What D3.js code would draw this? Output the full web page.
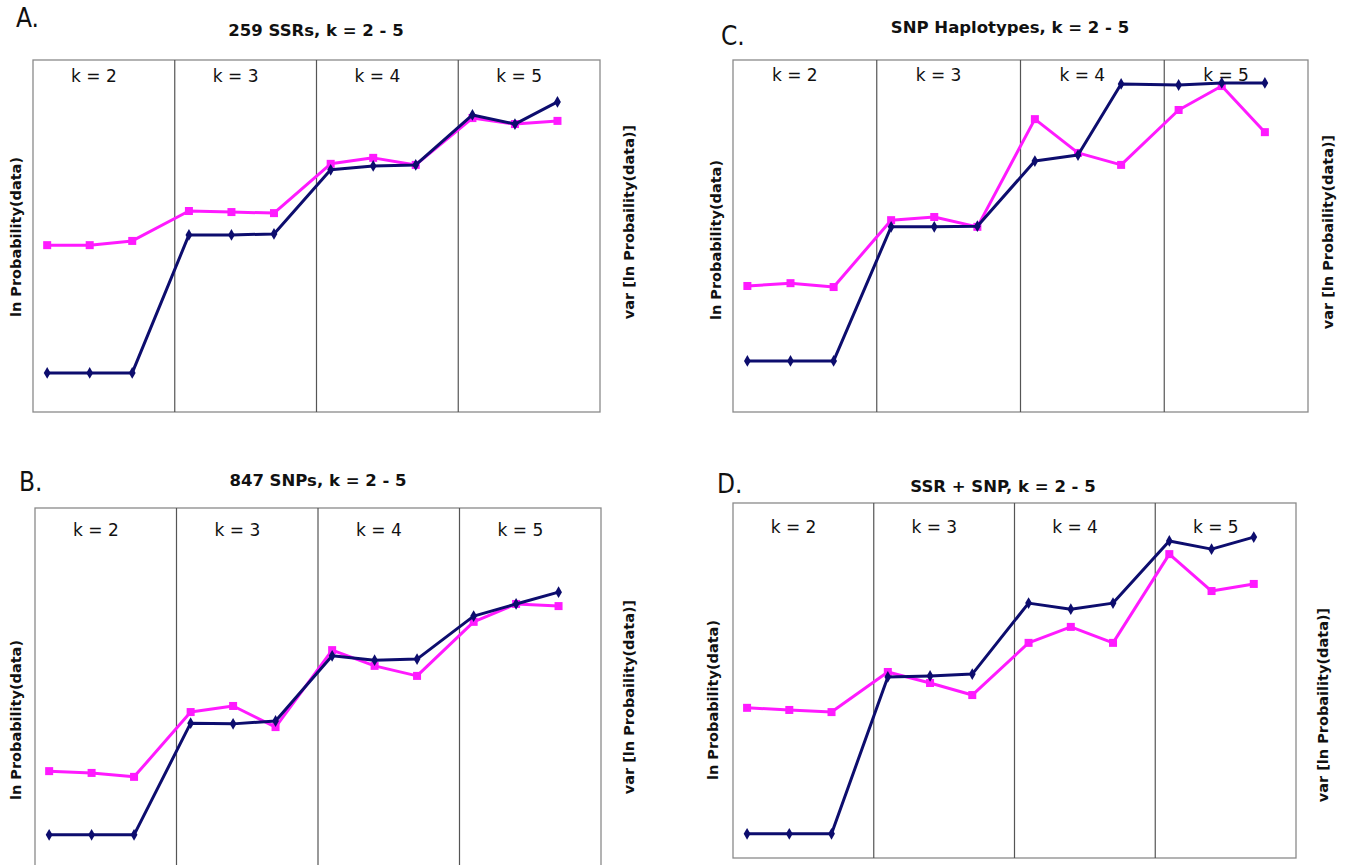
<!DOCTYPE html>
<html><head><meta charset="utf-8">
<script src="https://cdn.jsdelivr.net/npm/d3@7"></script>
<style>body{margin:0;background:#fff}svg{display:block}</style>
</head><body>
<svg id="c" width="1345" height="865"></svg>
<script>
// ---- data (relative ln P units, 0-100 of panel range) ----
const groups = ["k = 2", "k = 3", "k = 4", "k = 5"];
const runs = [0, 1, 2];
const titles = ["259 SSRs, k = 2 - 5", "847 SNPs, k = 2 - 5", "SNP Haplotypes, k = 2 - 5", "SSR + SNP,  k = 2 - 5"];
const letters = ["A.", "B.", "C.", "D."];
const blueA = [11.1, 11.1, 11.1, 50.3, 50.3, 50.6, 68.8, 69.9, 70.2, 84.4, 81.8, 88.1];
const magA  = [47.4, 47.4, 48.6, 57.1, 56.8, 56.5, 70.5, 72.2, 70.2, 83.5, 81.8, 82.7];
const blueB = [8.7, 8.7, 8.7, 39.9, 39.7, 40.5, 58.7, 57.5, 57.8, 69.8, 73.2, 76.5];
const magB  = [26.5, 26.0, 24.9, 43.0, 44.7, 38.8, 60.3, 55.9, 53.1, 68.2, 73.2, 72.6];
const blueC = [14.5, 14.5, 14.5, 52.6, 52.6, 52.8, 71.3, 73.0, 93.2, 92.9, 93.5, 93.5];
const magC  = [35.8, 36.6, 35.5, 54.5, 55.4, 52.6, 83.2, 73.6, 70.2, 85.8, 92.6, 79.5];
const blueD = [6.8, 6.8, 6.8, 51.0, 51.3, 51.8, 71.8, 70.1, 71.8, 89.3, 87.0, 90.4];
const magD  = [42.3, 41.7, 41.1, 52.4, 49.3, 45.9, 60.6, 65.1, 60.6, 85.6, 75.2, 77.2];
const leftLabel = "ln Probability(data)";
const rightLabel = "var [ln Probaility(data)]";

// ---- layout ----
const panels = [
  {blue: blueA, mag: magA, x0: 33, x1: 600, y0: 60, y1: 412, koff: 22, letter: [16, 27], title: [316, 36], ll: [16, 237], rl: [629, 222]},
  {blue: blueB, mag: magB, x0: 35, x1: 601, y0: 508, y1: 866, koff: 28, letter: [19, 491], title: [318, 486], ll: [16, 720], rl: [629, 697]},
  {blue: blueC, mag: magC, x0: 733, x1: 1308, y0: 60, y1: 412, koff: 21, letter: [721, 45], title: [1010, 33], ll: [716, 240], rl: [1328, 232]},
  {blue: blueD, mag: magD, x0: 733, x1: 1296, y0: 503, y1: 858, koff: 30, letter: [717, 493], title: [1003, 492], ll: [713, 700], rl: [1323, 705]}
];
const pIdx = [0, 1, 2, 3];

const svg = d3.select("#c");
const font = "'DejaVu Sans', Verdana, sans-serif";

pIdx.forEach(pi => {
  const p = panels[pi];
  const g = svg.append("g");
  const xg = d3.scaleBand().domain(groups).range([p.x0, p.x1]);
  const bw = xg.bandwidth();
  const xr = d3.scaleLinear().domain([0, 2]).range([bw * 0.1, bw * 0.7]);
  const y = d3.scaleLinear().domain([0, 100]).range([p.y1, p.y0]);
  const xAt = i => xg(groups[Math.floor(i / 3)]) + xr(runs[i % 3]);

  g.append("rect").attr("x", p.x0).attr("y", p.y0).attr("width", p.x1 - p.x0).attr("height", p.y1 - p.y0)
    .attr("fill", "none").attr("stroke", "#8a8a8a").attr("stroke-width", 1.3);
  g.selectAll("line.div").data(groups.slice(1)).join("line")
    .attr("x1", d => xg(d)).attr("x2", d => xg(d)).attr("y1", p.y0).attr("y2", p.y1)
    .attr("stroke", "#555").attr("stroke-width", 1.2);
  g.selectAll("text.k").data(groups).join("text")
    .attr("x", d => xg(d) + bw * 0.43).attr("y", p.y0 + p.koff)
    .attr("text-anchor", "middle").attr("font-family", font).attr("font-size", 17).attr("fill", "#111")
    .text(d => d);

  const line = d3.line().x((d, i) => xAt(i)).y(d => y(d));
  g.append("path").datum(p.mag).attr("d", line).attr("fill", "none").attr("stroke", "#ff1aff").attr("stroke-width", 3).attr("stroke-linejoin", "round");
  g.selectAll("rect.m").data(p.mag).join("rect")
    .attr("x", (d, i) => xAt(i) - 4).attr("y", d => y(d) - 4).attr("width", 8).attr("height", 8).attr("fill", "#ff1aff");
  g.append("path").datum(p.blue).attr("d", line).attr("fill", "none").attr("stroke", "#0d0d6e").attr("stroke-width", 3).attr("stroke-linejoin", "round");
  g.selectAll("path.b").data(p.blue).join("path")
    .attr("d", d3.symbol(d3.symbolDiamond, 40))
    .attr("transform", (d, i) => `translate(${xAt(i)},${y(d)})`).attr("fill", "#0d0d6e");

  g.append("text").attr("x", p.letter[0]).attr("y", p.letter[1]).attr("font-family", "'DejaVu Sans Condensed', 'DejaVu Sans', sans-serif")
    .attr("font-size", 26).attr("fill", "#111").text(letters[pi]);
  g.append("text").attr("x", p.title[0]).attr("y", p.title[1]).attr("text-anchor", "middle")
    .attr("font-family", font).attr("font-weight", "bold").attr("font-size", 16.5).attr("fill", "#111").text(titles[pi]);
  g.append("text").attr("transform", `translate(${p.ll[0]},${p.ll[1]}) rotate(-90)`).attr("text-anchor", "middle")
    .attr("dy", "0.35em").attr("font-family", font).attr("font-weight", "bold").attr("font-size", 14.5).attr("fill", "#111").text(leftLabel);
  g.append("text").attr("transform", `translate(${p.rl[0]},${p.rl[1]}) rotate(-90)`).attr("text-anchor", "middle")
    .attr("dy", "0.35em").attr("font-family", font).attr("font-weight", "bold").attr("font-size", 14.5).attr("fill", "#111").text(rightLabel);
});
</script>
</body></html>
